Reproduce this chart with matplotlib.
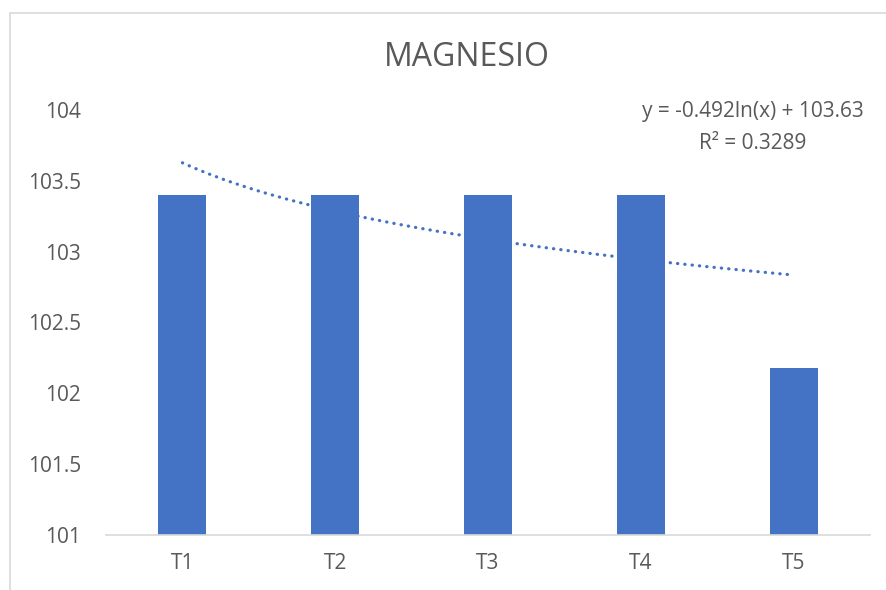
import numpy as np
import matplotlib
matplotlib.use("Agg")
import matplotlib.pyplot as plt
from matplotlib.patches import Rectangle

plt.rcParams['font.family'] = ['Open Sans', 'DejaVu Sans']

# data
categories = ["T1", "T2", "T3", "T4", "T5"]
values = [103.4, 103.4, 103.4, 103.4, 102.18]
y_ticks = [101, 101.5, 102, 102.5, 103, 103.5, 104]
y_tick_labels = ["101", "101.5", "102", "102.5", "103", "103.5", "104"]

bar_color = "#4472C4"
text_color = "#595959"
line_gray = "#D9D9D9"

fig = plt.figure(figsize=(8.86, 5.90), dpi=100)
ax = fig.add_axes([106/886, 1 - 535/590, (870 - 106)/886, (535 - 110)/590])

x = np.arange(1, len(categories) + 1)
ax.bar(x, values, width=0.314, color=bar_color, zorder=2)

# logarithmic trendline (least squares on ln(x), as Excel does)
slope, intercept = np.polyfit(np.log(x), values, 1)
pred = slope * np.log(x) + intercept
r2 = 1 - np.sum((np.array(values) - pred) ** 2) / np.sum((np.array(values) - np.mean(values)) ** 2)
xs = np.linspace(1, len(categories), 200)
ax.plot(xs, slope * np.log(xs) + intercept, color=bar_color, lw=2.3,
        linestyle=(0, (0.1, 2.2)), dash_capstyle='round', zorder=3)

ax.set_xlim(0.5, len(categories) + 0.5)
ax.set_ylim(101, 104)
ax.set_xticks(x)
ax.set_xticklabels(categories)
ax.set_yticks(y_ticks)
ax.set_yticklabels(y_tick_labels)
ax.tick_params(axis='both', length=0, labelsize=15, colors=text_color)
ax.tick_params(axis='x', pad=13)
ax.tick_params(axis='y', pad=18)
for s in ["top", "right", "left"]:
    ax.spines[s].set_visible(False)
ax.spines["bottom"].set_color(line_gray)
ax.spines["bottom"].set_linewidth(1.2)

fig.text(467/886, 1 - 58/590, "MAGNESIO", ha='center', va='center',
         fontsize=23, color=text_color)
fig.text(753/886, 1 - 112/590, "y = %.3fln(x) + %.2f" % (slope, intercept),
         ha='center', va='center', fontsize=15, color=text_color)
fig.text(753/886, 1 - 143/590, "R² = %.4f" % r2,
         ha='center', va='center', fontsize=15, color=text_color)

# chart area border
fig.patches.append(Rectangle((10/886, -0.1), 1.0, 1 - 13/590 + 0.1,
                             transform=fig.transFigure, fill=False,
                             edgecolor=line_gray, lw=1.2))

fig.savefig("out.png", dpi=100)
